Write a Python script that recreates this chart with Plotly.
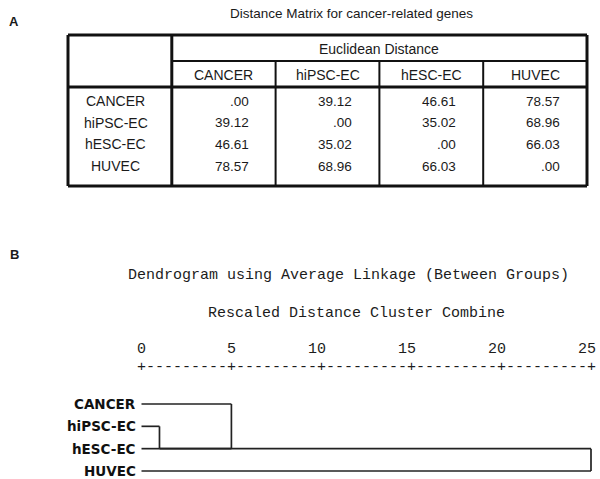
import math
import plotly.graph_objects as go

# ---------------- data ----------------
GENE_SETS = ["CANCER", "hiPSC-EC", "hESC-EC", "HUVEC"]
DIST_CANCER = [0.00, 39.12, 46.61, 78.57]
DIST_HIPSC = [39.12, 0.00, 35.02, 68.96]
DIST_HESC = [46.61, 35.02, 0.00, 66.03]
DIST_HUVEC = [78.57, 68.96, 66.03, 0.00]
DIST_ROWS = [DIST_CANCER, DIST_HIPSC, DIST_HESC, DIST_HUVEC]

# dendrogram (rescaled distance 0-25); nodes 0-3 leaves, 4.. clusters
MERGE_LEFT = [1, 0, 4]
MERGE_RIGHT = [2, 4, 3]
MERGE_HEIGHT = [1, 5, 25]
RULER_TICKS = [0, 5, 10, 15, 20, 25]

TABLE_TITLE = "Distance Matrix for cancer-related genes"
TABLE_GROUP = "Euclidean Distance"
DENDRO_TITLE = "Dendrogram using Average Linkage (Between Groups)"
DENDRO_SUB = "Rescaled Distance Cluster Combine"

# ---------------- layout helpers ----------------
W, H = 600, 479
def px(x):
    return x / W
def py(y):
    return 1 - y / H

SANS = "Liberation Sans, Arial, sans-serif"
MONO = "Liberation Mono, Courier New, monospace"
BOLD = "DejaVu Sans, Verdana, sans-serif"
TXT = "#1a1a1a"
LINE = "#111111"
MONO_C = "#1c1c1c"

fig = go.Figure()

# table geometry (x in column units, y in pixels)
T_LEFT, T_RIGHT = 68, 587
COL_W = (T_RIGHT - T_LEFT) / 5
TOP, HDR1, HDR2, BOTTOM = 35, 61, 87, 186
ROW0, ROW_STEP = 101, 21.7

shapes = []
def hline(x0, x1, y, w):
    shapes.append(dict(type="line", xref="x", yref="y", x0=x0, x1=x1, y0=y, y1=y,
                       line=dict(color=LINE, width=w)))
def vline(x, y0, y1, w):
    shapes.append(dict(type="line", xref="x", yref="y", x0=x, x1=x, y0=y0, y1=y1,
                       line=dict(color=LINE, width=w)))

ncol = len(GENE_SETS) + 1
hline(0, ncol, TOP, 3)
hline(0, ncol, BOTTOM, 3)
vline(0, TOP, BOTTOM, 3)
vline(ncol, TOP, BOTTOM, 3)
vline(1, TOP, BOTTOM, 3)
hline(0, ncol, HDR2, 3)
hline(1, ncol, HDR1, 2)
for c in range(2, ncol):
    vline(c, HDR1, BOTTOM, 2)

ann = []
def text(x, y, s, size, family=SANS, xref="x", yref="y", xanchor="center", xshift=0, color=TXT):
    ann.append(dict(x=x, y=y, xref=xref, yref=yref, text=s, showarrow=False,
                    font=dict(family=family, size=size, color=color),
                    xanchor=xanchor, yanchor="middle", xshift=xshift,
                    borderpad=0, borderwidth=0))

def fmt(v):
    s = f"{v:.2f}"
    return s[1:] if s.startswith("0") else s

text((1 + ncol) / 2, (TOP + HDR1) / 2 + 1, TABLE_GROUP, 14)
for j, name in enumerate(GENE_SETS):
    text(j + 1.5, (HDR1 + HDR2) / 2 + 1, name, 14)
for i, (name, row) in enumerate(zip(GENE_SETS, DIST_ROWS)):
    y = ROW0 + i * ROW_STEP
    text(0.5, y, name, 14, xshift=-4)
    for j, v in enumerate(row):
        text(j + 2, y, fmt(v), 13.5, xanchor="right", xshift=-27)

text(px(351), py(14), TABLE_TITLE, 13.5, xref="paper", yref="paper")
text(px(14), py(22), "<b>A</b>", 13, xref="paper", yref="paper")
text(px(14), py(254), "<b>B</b>", 13, xref="paper", yref="paper")

# ---------------- dendrogram ----------------
node_x = [0.0] * len(GENE_SETS)
node_y = list(range(len(GENE_SETS)))
dx, dy = [], []
for a, b, h in zip(MERGE_LEFT, MERGE_RIGHT, MERGE_HEIGHT):
    dx += [node_x[a], h, None, node_x[b], h, None, h, h, None]
    dy += [node_y[a], node_y[a], None, node_y[b], node_y[b], None, node_y[a], node_y[b], None]
    node_x.append(h)
    node_y.append(math.ceil((node_y[a] + node_y[b]) / 2))

fig.add_trace(go.Scatter(x=dx, y=dy, xaxis="x2", yaxis="y2", mode="lines",
                         line=dict(color="#222222", width=1.7), hoverinfo="skip",
                         showlegend=False))

for i, name in enumerate(GENE_SETS):
    text(0, i, f"<b>{name}</b>", 13.5, family=BOLD, xref="x2", yref="y2",
         xanchor="right", xshift=-6, color="#111")

# ruler and tick labels (monospaced, SPSS style)
ruler = "+"
for k in range(1, len(RULER_TICKS)):
    ruler += "-" * 9 + "+"
text(RULER_TICKS[0], py(367), ruler, 15, family=MONO, xref="x2", yref="paper",
     xanchor="left", xshift=-4.5, color=MONO_C)
for t in RULER_TICKS:
    text(t, py(349), str(t), 15, family=MONO, xref="x2", yref="paper",
         xanchor="right", xshift=4.5, color=MONO_C)

text(px(128), py(275), DENDRO_TITLE, 15, family=MONO, xref="paper", yref="paper",
     xanchor="left", color=MONO_C)
text(px(208), py(313), DENDRO_SUB, 15, family=MONO, xref="paper", yref="paper",
     xanchor="left", color=MONO_C)

# axes
UNIT = 89.9 / 5  # pixels per rescaled unit
X0PX = 141.5
ROWPX0, ROWSTEP = 404, 22.33
hidden = dict(visible=False, showgrid=False, zeroline=False, fixedrange=True)
fig.update_layout(
    width=W, height=H, margin=dict(l=0, r=0, t=0, b=0),
    paper_bgcolor="white", plot_bgcolor="white", showlegend=False,
    xaxis=dict(domain=[0, 1], range=[-T_LEFT / COL_W, (W - T_LEFT) / COL_W], **hidden),
    yaxis=dict(domain=[0, 1], range=[H, 0], **hidden),
    xaxis2=dict(domain=[0, 1], range=[-X0PX / UNIT, (W - X0PX) / UNIT], anchor="y2",
                overlaying="x", **hidden),
    yaxis2=dict(domain=[0, 1], range=[(H - ROWPX0) / ROWSTEP, -ROWPX0 / ROWSTEP],
                anchor="x2", overlaying="y", **hidden),
    shapes=shapes, annotations=ann,
)
# invisible anchor trace for the table axes
fig.add_trace(go.Scatter(x=[0], y=[0], mode="markers", marker=dict(opacity=0),
                         hoverinfo="skip", showlegend=False))

fig.write_html("out.html", config={"displayModeBar": False, "staticPlot": True},
               post_script="document.body.style.margin='0px';document.body.style.overflow='hidden';")
